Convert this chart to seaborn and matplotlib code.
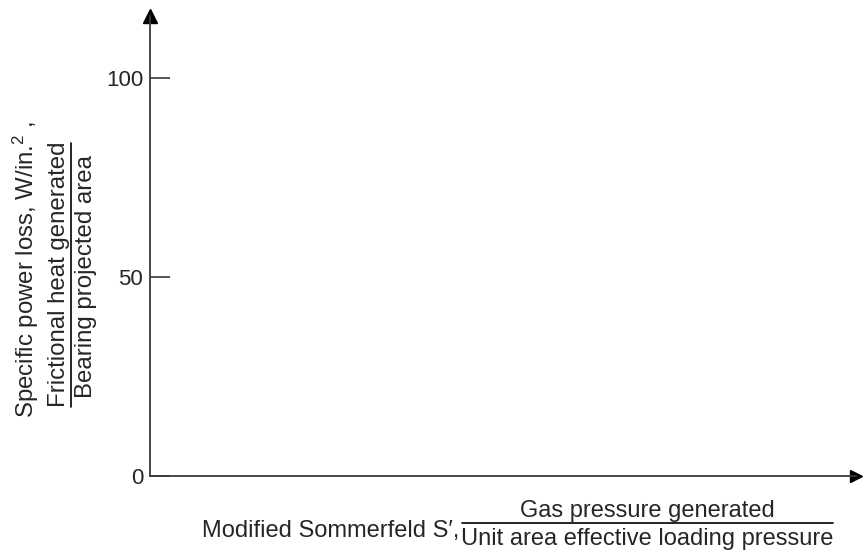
import matplotlib
matplotlib.use("Agg")
import matplotlib.pyplot as plt
from matplotlib.lines import Line2D
import seaborn as sns

# axis values
y_ticks = [0, 50, 100]
y_tick_labels = ["0", "50", "100"]
y_limits = [0, 115.6]
x_limits = [0, 1]

# label texts
y_label_line = r"Specific power loss, W/in.$^{2}$ ,"
y_num = "Frictional heat generated"
y_den = "Bearing projected area"
x_label_line = "Modified Sommerfeld S\u2032,"
x_num = "Gas pressure generated"
x_den = "Unit area effective loading pressure"

sns.set_style("white")
plt.rcParams["font.family"] = ["Liberation Sans", "DejaVu Sans"]
plt.rcParams["mathtext.fontset"] = "custom"
plt.rcParams["mathtext.rm"] = "Liberation Sans"
plt.rcParams["mathtext.it"] = "Liberation Sans"

W, H = 865, 552
fig = plt.figure(figsize=(W / 100, H / 100), dpi=100)
ax = fig.add_axes([150 / W, (H - 476) / H, (856 - 150) / W, (476 - 16) / H])

axis_col = "#3a3a3a"
sns.despine(ax=ax)
for s in ["left", "bottom"]:
    ax.spines[s].set_color(axis_col)
    ax.spines[s].set_linewidth(1.3)

ax.set_xlim(x_limits)
ax.set_ylim(y_limits)
ax.set_xticks([])
ax.set_yticks(y_ticks)
ax.set_yticklabels(y_tick_labels)
ax.tick_params(axis="y", direction="in", length=14.4, width=1.2,
               color=axis_col, labelsize=16, pad=5, left=True)

# arrow heads
ax.plot(0, 1, marker="^", color="black", markersize=10, transform=ax.transAxes,
        clip_on=False)
ax.plot(1, 0, marker=">", color="black", markersize=9, transform=ax.transAxes,
        clip_on=False)


def fx(px):
    return px / W


def fy(py):
    return 1 - py / H


fs = 17.3
# y label (rotated)
fig.text(fx(34), fy(270), y_label_line, rotation=90, rotation_mode="anchor",
         ha="center", va="baseline", fontsize=fs)
fig.text(fx(65), fy(274), y_num, rotation=90, rotation_mode="anchor",
         ha="center", va="baseline", fontsize=fs)
fig.add_artist(Line2D([fx(71), fx(71)], [fy(143), fy(407)], color="black", lw=1.2))
fig.text(fx(92), fy(276), y_den, rotation=90, rotation_mode="anchor",
         ha="center", va="baseline", fontsize=fs)

# x label
hs = 17
fig.text(fx(459), fy(537), x_label_line, ha="right", va="baseline", fontsize=hs)
fig.text(fx(647.5), fy(517), x_num, ha="center", va="baseline", fontsize=hs)
fig.add_artist(Line2D([fx(462), fx(833)], [fy(523), fy(523)], color="black", lw=1.2))
fig.text(fx(647.5), fy(545), x_den, ha="center", va="baseline", fontsize=hs)

fig.savefig("out.png", dpi=100)
